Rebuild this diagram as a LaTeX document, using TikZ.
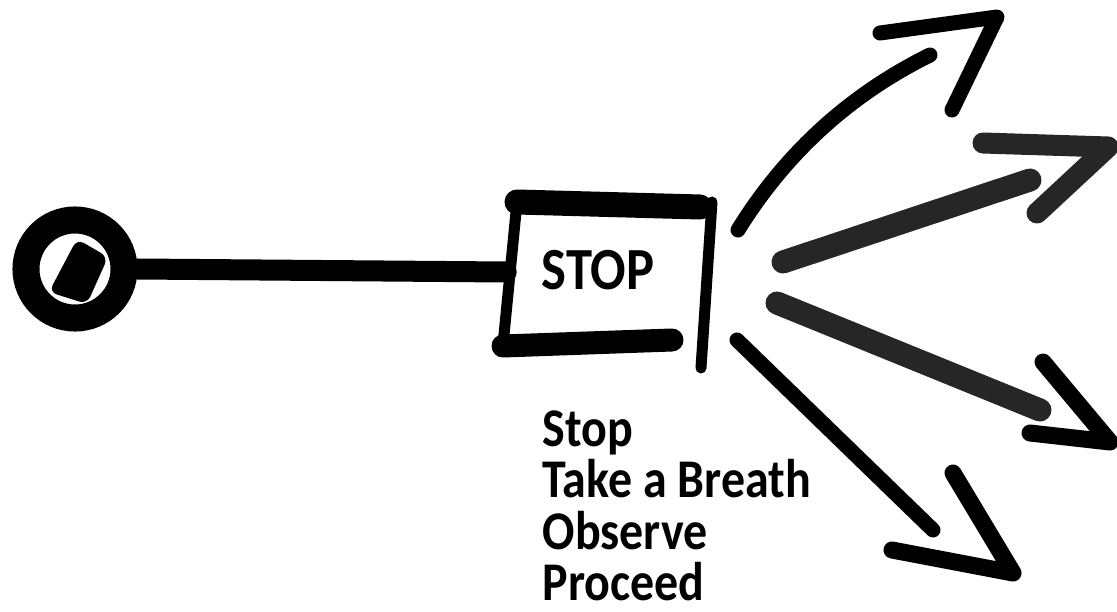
\documentclass[tikz,border=0pt]{standalone}
\usepackage{fontspec}
\setmainfont{Carlito}[FakeStretch=0.88]
\usetikzlibrary{positioning, calc}

\begin{document}
\begin{tikzpicture}[x=0.01cm, y=-0.01cm,
    marker/.style={draw=black, line width=0.15cm, line cap=round, line join=round},
    brush/.style={marker, draw=black!85, line width=0.23cm},
    pen/.style={marker, line width=0.11cm},
    stem/.style={marker, line width=0.21cm},
    head/.style={marker, line width=0.17cm},
    ring/.style={circle, draw=black, line width=0.27cm, minimum size=0.98cm, inner sep=0pt},
    boxnode/.style={rectangle, minimum width=2cm, minimum height=1.42cm, inner sep=0pt},
    tag/.style={font=\fontsize{17pt}{17pt}\selectfont\bfseries, inner sep=0pt},
    steps/.style={align=left, font=\fontsize{15.5pt}{14.6pt}\selectfont\bfseries, inner sep=0pt}
]
    \useasboundingbox (0,0) rectangle (1117,612);

    % Start point
    \node[ring] (start) at (75,269) {};
    \fill[rounded corners=0.08cm] (49,292) -- (77,239) -- (108,257) -- (87,304) -- cycle;

    % Stop box
    \node[boxnode] (stop) at (607,272) {};
    \node[tag, anchor=base] (stoptext) at (598,290) {STOP};
    \draw[stem, line width=0.25cm] (517,202) -- (700,207);
    \draw[pen] (517,202) -- (503,345);
    \draw[stem, line width=0.23cm] (503,346) -- (672,340);
    \draw[pen] (712,202) -- (701,368);

    % Path into the box
    \draw[stem] (start.east) -- (stop.west);

    % Steps
    \node[steps, anchor=north west] (steplist) at (542,410) {Stop\\Take a Breath\\Observe\\Proceed};

    % Ways out
    \coordinate (up1) at (738,230);   \coordinate (up2) at (930,55);
    \coordinate (mid1) at (783,262);  \coordinate (mid2) at (1030,180);
    \coordinate (low1) at (777,303);  \coordinate (low2) at (1040,410);
    \coordinate (down1) at (737,340); \coordinate (down2) at (933,530);

    \draw[marker] (up1) .. controls (785,154) and (849,95) .. (up2);
    \draw[head, line width=0.15cm] (880,33) -- (997,17) -- (952,110);

    \draw[brush] (mid1) -- (mid2);
    \draw[head, draw=black!85, line width=0.21cm] (983,143) -- (1108,147) -- (1037,213);

    \draw[brush] (low1) -- (low2);
    \draw[head] (1043,362) -- (1110,442) -- (1030,433);

    \draw[marker] (down1) -- (down2);
    \draw[head] (953,473) -- (1013,573) -- (892,550);
\end{tikzpicture}
\end{document}
